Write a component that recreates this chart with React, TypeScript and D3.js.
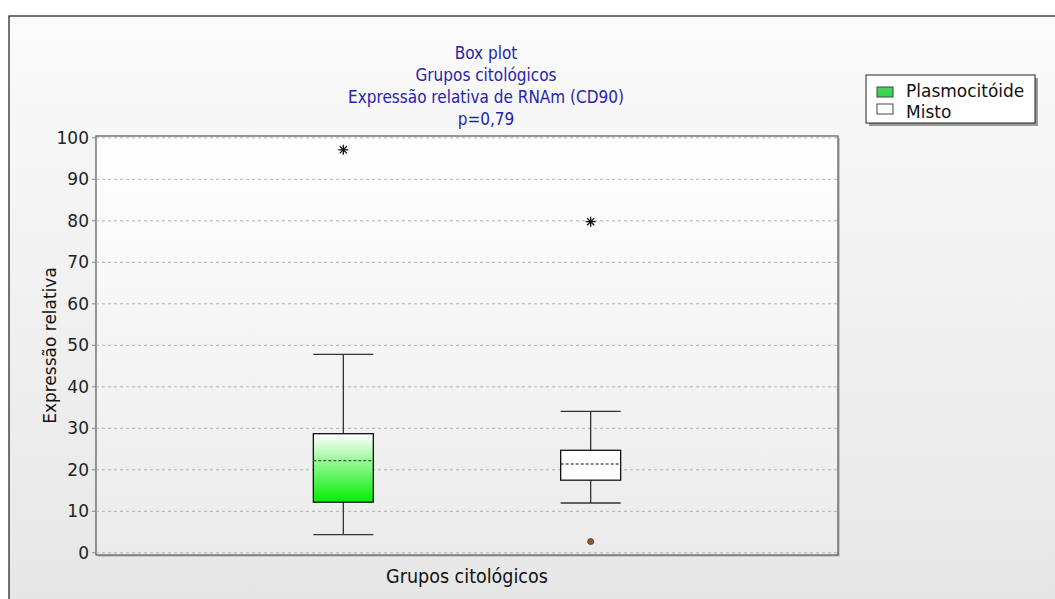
import React from "react";
import * as d3 from "d3";

// Box-plot summary per cytological group
const groups = ["Plasmocitóide", "Misto"];
const whiskerLow = [4.4, 12.0];
const q1 = [12.2, 17.5];
const median = [22.2, 21.4];
const q3 = [28.7, 24.7];
const whiskerHigh = [47.8, 34.1];
const extremeOutliers = [[97.1], [79.8]];
const mildOutliers: number[][] = [[], [2.7]];
const yTicks = [0, 10, 20, 30, 40, 50, 60, 70, 80, 90, 100];
const titleLines = ["Box plot", "Grupos citológicos", "Expressão relativa de RNAm (CD90)", "p=0,79"];

const W = 1055;
const H = 599;
const plot = { left: 96, right: 838, top: 136, bottom: 555 };
const boxW = 60;

export default function App() {
  const x = d3.scalePoint<string>().domain(groups).range([plot.left, plot.right]).padding(1);
  const y = d3.scaleLinear().domain([0, 100]).range([552.8, 137.8]);
  const font = "'DejaVu Sans', Verdana, sans-serif";
  const titleFont = "'DejaVu Sans Condensed', 'DejaVu Sans', sans-serif";

  const star = (cx: number, cy: number, key: string) => {
    const r = 5;
    const lines = [0, 45, 90, 135].map((a) => {
      const rad = (a * Math.PI) / 180;
      return (
        <line
          key={a}
          x1={cx - r * Math.cos(rad)}
          y1={cy - r * Math.sin(rad)}
          x2={cx + r * Math.cos(rad)}
          y2={cy + r * Math.sin(rad)}
          stroke="#111"
          strokeWidth={1.3}
        />
      );
    });
    return <g key={key}>{lines}</g>;
  };

  return (
    <div style={{ position: "absolute", left: 0, top: 0 }}>
      <svg width={W} height={H} viewBox={`0 0 ${W} ${H}`} style={{ display: "block" }}>
        <defs>
          <linearGradient id="bgGrad" x1="0" y1="0" x2="0" y2="1">
            <stop offset="0" stopColor="#fbfbfb" />
            <stop offset="1" stopColor="#e6e6e6" />
          </linearGradient>
          <linearGradient id="plotGrad" x1="0" y1="0" x2="0" y2="1">
            <stop offset="0" stopColor="#ffffff" />
            <stop offset="1" stopColor="#ebebeb" />
          </linearGradient>
          <linearGradient id="greenGrad" x1="0" y1="0" x2="0" y2="1">
            <stop offset="0" stopColor="#ffffff" />
            <stop offset="1" stopColor="#00ee00" />
          </linearGradient>
          <linearGradient id="swatchGrad" x1="0" y1="0" x2="0" y2="1">
            <stop offset="0" stopColor="#55cc66" />
            <stop offset="1" stopColor="#22dd44" />
          </linearGradient>
        </defs>

        <rect x={0} y={0} width={W} height={H} fill="#ffffff" />
        <rect x={9} y={16} width={W} height={H} fill="url(#bgGrad)" stroke="#1a1a1a" strokeWidth={1.2} />

        {/* title */}
        {titleLines.map((t, i) => (
          <text
            key={t}
            x={486}
            y={59 + i * 22}
            textAnchor="middle"
            fontFamily={titleFont}
            fontSize={17}
            fill="#2424b0"
          >
            {t}
          </text>
        ))}

        {/* plot area */}
        <rect
          x={plot.left + 2}
          y={plot.top + 2}
          width={plot.right - plot.left}
          height={plot.bottom - plot.top}
          fill="#c8c8c8"
        />
        <rect
          x={plot.left}
          y={plot.top}
          width={plot.right - plot.left}
          height={plot.bottom - plot.top}
          fill="url(#plotGrad)"
          stroke="#555"
          strokeWidth={1.2}
        />

        {/* grid and y ticks */}
        {yTicks.map((t) => (
          <g key={t}>
            <line
              x1={plot.left}
              x2={plot.right}
              y1={y(t)}
              y2={y(t)}
              stroke="#b0b0b0"
              strokeDasharray="3,3"
            />
            <line x1={plot.left - 4} x2={plot.left} y1={y(t)} y2={y(t)} stroke="#888" />
            <text
              x={plot.left - 7}
              y={y(t)}
              dy="0.36em"
              textAnchor="end"
              fontFamily={font}
              fontSize={17}
              fill="#222"
            >
              {t}
            </text>
          </g>
        ))}

        {/* boxes */}
        {groups.map((g, i) => {
          const cx = x(g) as number;
          const x0 = cx - boxW / 2;
          return (
            <g key={g}>
              <line x1={cx} x2={cx} y1={y(whiskerHigh[i])} y2={y(q3[i])} stroke="#333" strokeWidth={1.3} />
              <line x1={cx} x2={cx} y1={y(q1[i])} y2={y(whiskerLow[i])} stroke="#333" strokeWidth={1.3} />
              <line x1={x0} x2={x0 + boxW} y1={y(whiskerHigh[i])} y2={y(whiskerHigh[i])} stroke="#333" strokeWidth={1.3} />
              <line x1={x0} x2={x0 + boxW} y1={y(whiskerLow[i])} y2={y(whiskerLow[i])} stroke="#333" strokeWidth={1.3} />
              <rect
                x={x0}
                y={y(q3[i])}
                width={boxW}
                height={y(q1[i]) - y(q3[i])}
                fill={i === 0 ? "url(#greenGrad)" : "#ffffff"}
                stroke="#111"
                strokeWidth={1.3}
              />
              <line
                x1={x0}
                x2={x0 + boxW}
                y1={y(median[i])}
                y2={y(median[i])}
                stroke={i === 0 ? "#336633" : "#111"}
                strokeWidth={1.2}
                strokeDasharray="3,2"
              />
              {extremeOutliers[i].map((v, j) => star(cx, y(v), `s${j}`))}
              {mildOutliers[i].map((v, j) => (
                <circle key={`m${j}`} cx={cx} cy={y(v)} r={3} fill="#8a5a3a" stroke="#553322" strokeWidth={0.8} />
              ))}
            </g>
          );
        })}

        {/* axis titles */}
        <text
          transform={`translate(56, ${(plot.top + plot.bottom) / 2}) rotate(-90)`}
          textAnchor="middle"
          fontFamily={font}
          fontSize={17}
          fill="#111"
        >
          Expressão relativa
        </text>
        <text
          x={(plot.left + plot.right) / 2}
          y={583}
          textAnchor="middle"
          fontFamily={titleFont}
          fontSize={19.5}
          fill="#111"
        >
          Grupos citológicos
        </text>

        {/* legend */}
        <rect x={869} y={78} width={169} height={48} fill="#999" />
        <rect x={866} y={75} width={169} height={48} fill="#ffffff" stroke="#222" strokeWidth={1} />
        {groups.map((g, i) => (
          <g key={g}>
            <rect
              x={877}
              y={87 + i * 17}
              width={16}
              height={10}
              fill={i === 0 ? "url(#swatchGrad)" : "#ffffff"}
              stroke="#444"
              strokeWidth={1}
            />
            <text x={906} y={97 + i * 21} fontFamily={font} fontSize={17} fill="#111">
              {g}
            </text>
          </g>
        ))}
      </svg>
    </div>
  );
}
